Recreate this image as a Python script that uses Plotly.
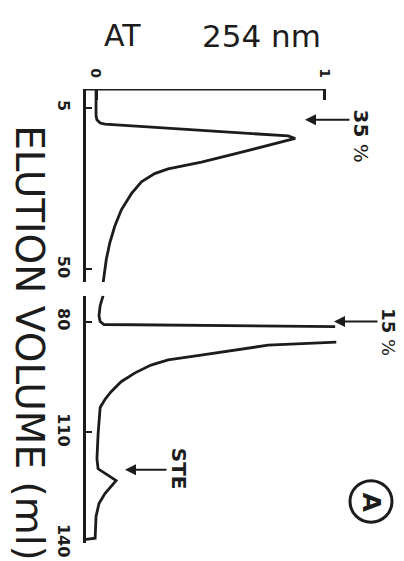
import plotly.graph_objects as go

# ---- data (absorbance at 254 nm vs elution volume, ml) ----
top_vol = [-0.3, 7.2, 8.3, 9.2, 9.5, 12.8, 13.5, 15.5, 17.8, 20.1, 22.0, 23.3, 25.6, 28.9, 33.4, 38.0, 42.7, 47.2, 52.7, 53.8]
top_abs = [0.0, 0.0, 0.004, 0.018, 0.039, 0.842, 0.873, 0.754, 0.608, 0.462, 0.316, 0.257, 0.199, 0.155, 0.111, 0.082, 0.060, 0.045, 0.035, 0.031]

bot_vol = [73.0, 75.7, 78.4, 80.0, 80.8, 81.4, None, 85.6, 86.4, 89.1, 90.4, 91.8, 93.9, 96.3, 99.0, 101.1, 103.3,
           110.5, 117.2, 119.9, 123.1, 126.6, 129.3, 132.8, 138.7, 139.0]
bot_abs = [0.031, 0.018, 0.013, 0.018, 0.035, 1.048, None, 1.053, 0.754, 0.46, 0.316, 0.241, 0.171, 0.11, 0.066, 0.039, 0.018,
           0.009, 0.004, 0.009, 0.088, 0.039, 0.013, 0.0, -0.004, -0.044]

x_ticks = [0, 1]
x_ticktext = ["0", "1"]
top_ticks = [5, 50]
bot_ticks = [80, 110, 140]

W, H = 404, 561
L, R, T, B = 78, 339, 81, 540
INK = "#1c1c1c"

def P(px, py):
    return ((px - L) / (R - L), (B - py) / (B - T))

fig = go.Figure()
fig.add_trace(go.Scatter(x=top_abs, y=top_vol, mode="lines", xaxis="x", yaxis="y",
                         line=dict(color=INK, width=2.8), hoverinfo="skip"))
fig.add_trace(go.Scatter(x=bot_abs, y=bot_vol, mode="lines", xaxis="x", yaxis="y2",
                         line=dict(color=INK, width=2.8), hoverinfo="skip", connectgaps=False))

# domains
top_dom = (P(0, 276)[1], 1.0)
bot_dom = (0.0, P(0, 290)[1])

tickfont = dict(family="DejaVu Sans", size=16, color=INK, weight="bold")
fig.update_layout(
    width=W, height=H,
    margin=dict(l=L, r=W - R, t=T, b=H - B, pad=0),
    paper_bgcolor="white", plot_bgcolor="white",
    showlegend=False,
    xaxis=dict(range=[-0.044, 1.1], side="top", anchor="y", showgrid=False, zeroline=False,
               showline=False, tickvals=x_ticks, ticktext=x_ticktext, ticks="inside", ticklen=11,
               tickwidth=3, tickcolor=INK, tickangle=90, ticklabelstandoff=8,
               tickfont=dict(family="DejaVu Sans", size=14, color=INK, weight="bold")),
    yaxis=dict(domain=list(top_dom), range=[53.5, -0.3], anchor="x", showgrid=False, zeroline=False,
               showline=True, linewidth=3, linecolor=INK, tickvals=top_ticks, ticks="inside",
               ticklen=6, tickwidth=2, tickcolor=INK, tickangle=90, ticklabelstandoff=6, tickfont=tickfont),
    yaxis2=dict(domain=list(bot_dom), range=[140, 73], anchor="x", showgrid=False, zeroline=False,
                showline=True, linewidth=3, linecolor=INK, tickvals=bot_ticks, ticks="inside",
                ticklen=6, tickwidth=2, tickcolor=INK, tickangle=90, ticklabelstandoff=6, tickfont=tickfont),
)

# top frame line (0..1 absorbance)
fig.add_shape(type="line", xref="x", yref="y", x0=-0.044, x1=1.0, y0=-0.3, y1=-0.3,
              line=dict(color=INK, width=3))

def text(px, py, s, size, angle=0, family="DejaVu Sans"):
    x, y = P(px, py)
    fig.add_annotation(x=x, y=y, xref="paper", yref="paper", text=s, showarrow=False,
                       textangle=angle, xanchor="center", yanchor="middle",
                       font=dict(family=family, size=size, color=INK))

def arrow(tip, tail):
    x, y = P(*tip)
    fig.add_annotation(x=x, y=y, xref="paper", yref="paper", text="", showarrow=True,
                       ax=tail[0] - tip[0], ay=tail[1] - tip[1], arrowhead=2, arrowsize=1.1,
                       arrowwidth=2, arrowcolor=INK, standoff=0)

text(114, 27, "AT", 30)
text(253, 27, "254 nm", 31)
text(22, 338, "ELUTION VOLUME (ml)", 39, 90)
text(353, 128, "<b>35</b> %", 20, 90)
arrow((297, 112), (343, 112))
text(381, 327, "<b>15</b> %", 18, 90)
arrow((326, 316), (371, 316))
text(171, 465, "<b>STE</b>", 20, 90)
arrow((117, 466), (160, 466))

# circled A
cx0, cy0 = P(363 - 21, 498 + 21)
cx1, cy1 = P(363 + 21, 498 - 21)
fig.add_shape(type="circle", xref="paper", yref="paper", x0=cx0, x1=cx1, y0=cy0, y1=cy1,
              line=dict(color=INK, width=3))
text(364, 499, "<b>A</b>", 25, 90)

fig.write_html("out.html")
